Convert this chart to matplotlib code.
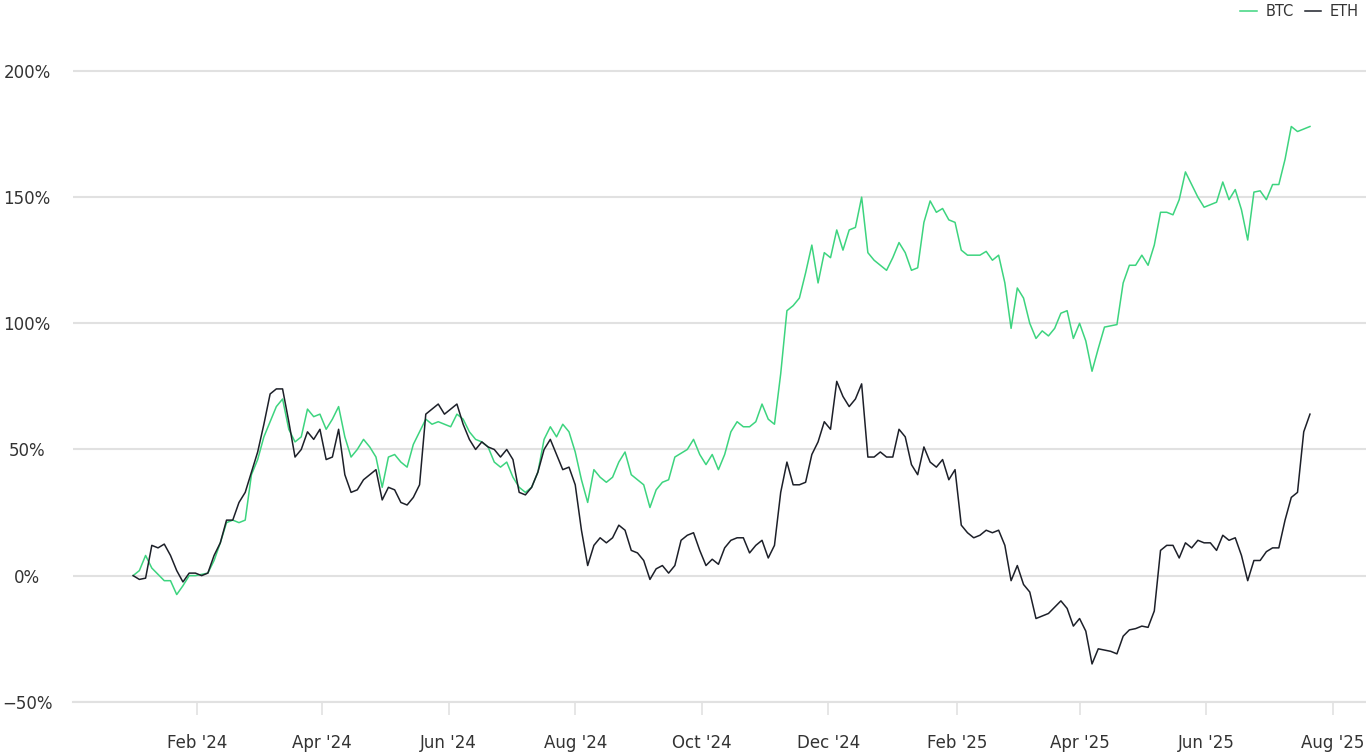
import pandas as pd
import matplotlib.pyplot as plt
import matplotlib.dates as mdates
from matplotlib.ticker import FuncFormatter

# cumulative return since 1 Jan 2024, in %, sampled every 3 days
dates = pd.date_range("2024-01-01", periods=190, freq="3D")

btc = [
    0, 2, 8, 3, 0.5, -2, -2, -7.5, -4, 0,
    0, 0.5, 1, 6, 13, 21, 22, 21, 22, 40,
    46, 55, 61, 67, 70, 58, 53, 55, 66, 63,
    64, 58, 62, 67, 55, 47, 50, 54, 51, 47,
    35, 47, 48, 45, 43, 52, 57, 62, 60, 61,
    60, 59, 64, 62, 57, 54, 53, 51, 45, 43,
    45, 39, 35, 33, 35, 41, 54, 59, 55, 60,
    57, 49, 38, 29, 42, 39, 37, 39, 45, 49,
    40, 38, 36, 27, 34, 37, 38, 47, 48.5, 50,
    54, 48, 44, 48, 42, 48, 57, 61, 59, 59,
    61, 68, 62, 60, 80, 105, 107, 110, 120, 131,
    116, 128, 126, 137, 129, 137, 138, 150, 128, 125,
    123, 121, 126, 132, 128, 121, 122, 140, 148.5, 144,
    145.5, 141, 140, 129, 127, 127, 127, 128.5, 125, 127,
    116, 98, 114, 110, 100, 94, 97, 95, 98, 104,
    105, 94, 100, 93, 81, 90, 98.5, 99, 99.5, 116,
    123, 123, 127, 123, 131, 144, 144, 143, 149, 160,
    155, 150, 146, 147, 148, 156, 149, 153, 145, 133,
    152, 152.5, 149, 155, 155, 165, 178, 176, 177, 178,
]

eth = [
    0, -1.5, -1, 12, 11, 12.5, 8, 2, -2.5, 1,
    1, 0, 1, 8, 13, 22, 22, 29, 33, 41,
    49, 60, 72, 74, 74, 61, 47, 50, 57, 54,
    58, 46, 47, 58, 40, 33, 34, 38, 40, 42,
    30, 35, 34, 29, 28, 31, 36, 64, 66, 68,
    64, 66, 68, 60, 54, 50, 53, 51, 50, 47,
    50, 46, 33, 32, 35, 41, 50, 54, 48, 42,
    43, 36, 18, 4, 12, 15, 13, 15, 20, 18,
    10, 9, 6, -1.5, 2.7, 4, 1, 4, 14, 16,
    17, 10, 4, 6.5, 4.5, 11, 14, 15, 15, 9,
    12, 14, 7, 12, 33, 45, 36, 36, 37, 48,
    53, 61, 58, 77, 71, 67, 70, 76, 47, 47,
    49, 47, 47, 58, 55, 44, 40, 51, 45, 43,
    46, 38, 42, 20, 17, 15, 16, 18, 17, 18,
    12, -2, 4, -3.5, -6.5, -17, -16, -15, -12.5, -10,
    -13, -20, -17, -22, -35, -29, -29.5, -30, -31, -24,
    -21.5, -21, -20, -20.5, -14, 10, 12, 12, 7, 13,
    11, 14, 13, 13, 10, 16, 14, 15, 8, -2,
    6, 6, 9.5, 11, 11, 22, 31, 33, 57, 64,
]

series = {"BTC": (btc, "#3dd47f"), "ETH": (eth, "#1d2029")}
yticks = [-50, 0, 50, 100, 150, 200]

fig = plt.figure(figsize=(13.66, 7.53), dpi=100)
ax = fig.add_axes([0.0534, 0.068, 0.9466, 0.888])

for name, (vals, color) in series.items():
    ax.plot(dates, vals, color=color, lw=1.1, label=name)

ax.set_xlim(pd.Timestamp("2023-12-03"), pd.Timestamp("2025-08-17"))
ax.set_ylim(-50, 215)
ax.set_yticks(yticks)
ax.yaxis.set_major_formatter(FuncFormatter(lambda v, p: f"{v:.0f}%".replace("-", "\u2212")))

ax.xaxis.set_major_locator(mdates.MonthLocator(bymonth=[2, 4, 6, 8, 10, 12]))
ax.xaxis.set_major_formatter(mdates.DateFormatter("%b '%y"))

ax.grid(axis="y", color="#e1e1e1", lw=1.5)
ax.set_axisbelow(True)
for s in ["top", "right", "left"]:
    ax.spines[s].set_visible(False)
ax.spines["bottom"].set_color("#e1e1e1")
ax.spines["bottom"].set_linewidth(1.5)

ax.tick_params(axis="y", length=0, pad=33, labelsize=12, labelcolor="#333333")
ax.tick_params(axis="x", length=9, width=1.2, color="#e1e1e1", pad=14,
               labelsize=12, labelcolor="#333333")
for lab in ax.get_yticklabels():
    lab.set_horizontalalignment("center")

fig.legend(loc="upper right", bbox_to_anchor=(0.997, 0.999), ncol=2, frameon=False,
           fontsize=10.5, handlelength=1.1, handletextpad=0.6, columnspacing=0.8,
           borderaxespad=0, borderpad=0.2, labelcolor="#333333")

fig.savefig("out.png", dpi=100)
